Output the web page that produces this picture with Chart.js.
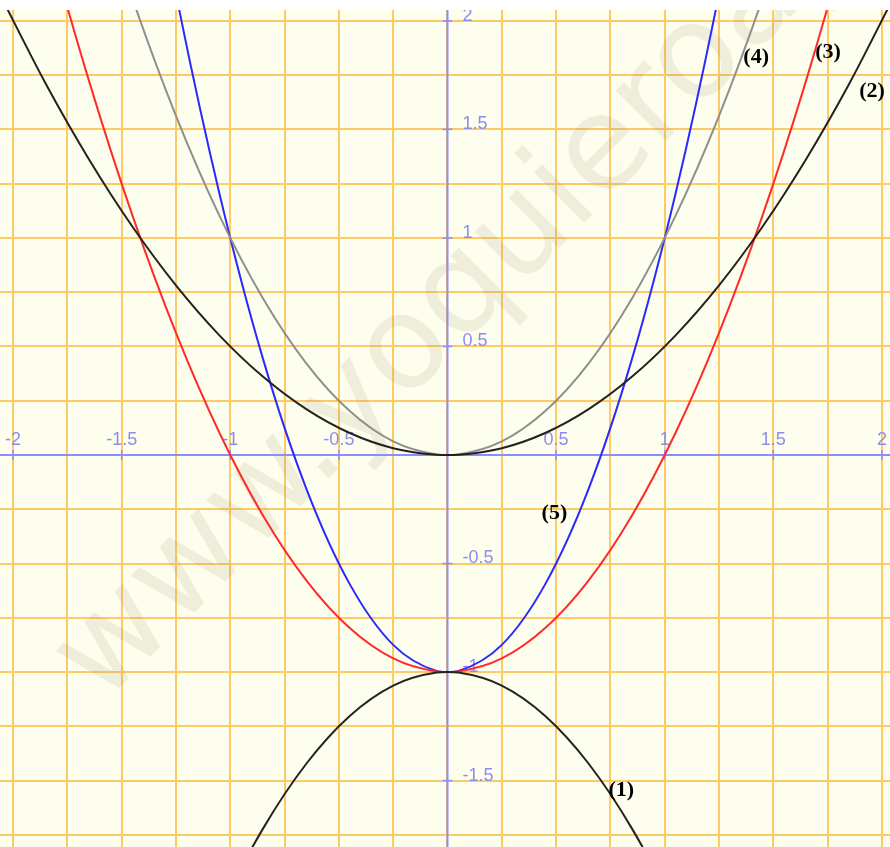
<!DOCTYPE html>
<html>
<head>
<meta charset="utf-8">
<script src="https://cdn.jsdelivr.net/npm/chart.js@4"></script>
<style>
  html, body { margin: 0; padding: 0; background: #fff; }
  #wrap { width: 890px; height: 847px; }
</style>
</head>
<body>
<div id="wrap"><canvas id="graph"></canvas></div>
<script>
// sample points
const xs = [-2.05, -1.85, -1.65, -1.45, -1.25, -1.05, -0.85, -0.65, -0.45, -0.25, -0.05, 0,
  0.05, 0.25, 0.45, 0.65, 0.85, 1.05, 1.25, 1.45, 1.65, 1.85, 2.05];
const curve1 = [-5.2025, -4.4225, -3.7225, -3.1025, -2.5625, -2.1025, -1.7225, -1.4225, -1.2025, -1.0625, -1.0025, -1,
  -1.0025, -1.0625, -1.2025, -1.4225, -1.7225, -2.1025, -2.5625, -3.1025, -3.7225, -4.4225, -5.2025];
const curve2 = [2.10125, 1.71125, 1.36125, 1.05125, 0.78125, 0.55125, 0.36125, 0.21125, 0.10125, 0.03125, 0.00125, 0,
  0.00125, 0.03125, 0.10125, 0.21125, 0.36125, 0.55125, 0.78125, 1.05125, 1.36125, 1.71125, 2.10125];
const curve3 = [3.2025, 2.4225, 1.7225, 1.1025, 0.5625, 0.1025, -0.2775, -0.5775, -0.7975, -0.9375, -0.9975, -1,
  -0.9975, -0.9375, -0.7975, -0.5775, -0.2775, 0.1025, 0.5625, 1.1025, 1.7225, 2.4225, 3.2025];
const curve4 = [4.2025, 3.4225, 2.7225, 2.1025, 1.5625, 1.1025, 0.7225, 0.4225, 0.2025, 0.0625, 0.0025, 0,
  0.0025, 0.0625, 0.2025, 0.4225, 0.7225, 1.1025, 1.5625, 2.1025, 2.7225, 3.4225, 4.2025];
const curve5 = [7.405, 5.845, 4.445, 3.205, 2.125, 1.205, 0.445, -0.155, -0.595, -0.875, -0.995, -1,
  -0.995, -0.875, -0.595, -0.155, 0.445, 1.205, 2.125, 3.205, 4.445, 5.845, 7.405];

const xTickValues = [-2, -1.5, -1, -0.5, 0.5, 1, 1.5, 2];
const xTickLabels = ["-2", "-1.5", "-1", "-0.5", "0.5", "1", "1.5", "2"];
const yTickValues = [2, 1.5, 1, 0.5, -0.5, -1, -1.5];
const yTickLabels = ["2", "1.5", "1", "0.5", "-0.5", "-1", "-1.5"];

const curveNames = ["(1)", "(2)", "(3)", "(4)", "(5)"];
const nameX = [0.80, 1.954, 1.752, 1.421, 0.492];
const nameY = [-1.544, 1.677, 1.857, 1.834, -0.267];

function pts(ys) {
  return xs.map((x, i) => ({ x: x, y: ys[i] }));
}

function curve(ys, color) {
  return {
    data: pts(ys),
    borderColor: color,
    borderWidth: 2,
    pointRadius: 0,
    cubicInterpolationMode: "monotone",
    fill: false,
    clip: 0
  };
}

// background, watermark and blue axes
const paper = {
  id: "paper",
  beforeDraw(chart) {
    const { ctx, chartArea: a } = chart;
    ctx.save();
    ctx.fillStyle = "#fefeee";
    ctx.fillRect(a.left, a.top, a.right - a.left, a.bottom - a.top);
    ctx.restore();
  },
  beforeDatasetsDraw(chart) {
    const { ctx, chartArea: a, scales } = chart;
    const x0 = scales.x.getPixelForValue(0);
    const y0 = scales.y.getPixelForValue(0);
    ctx.save();
    ctx.beginPath();
    ctx.rect(a.left, a.top, a.right - a.left, a.bottom - a.top);
    ctx.clip();

    // watermark
    ctx.save();
    ctx.translate(102, 705);
    ctx.rotate(-45 * Math.PI / 180);
    ctx.font = "130px 'DejaVu Sans', Verdana, sans-serif";
    ctx.fillStyle = "rgba(150,150,110,0.15)";
    ctx.textBaseline = "alphabetic";
    ctx.fillText("www.yoquieroaprobar.es", 0, 0);
    ctx.restore();

    ctx.strokeStyle = "#8c8cff";
    ctx.lineWidth = 2;
    ctx.beginPath();
    ctx.moveTo(a.left, y0); ctx.lineTo(a.right, y0);
    ctx.moveTo(x0, a.top); ctx.lineTo(x0, a.bottom);
    ctx.stroke();

    ctx.fillStyle = "#8c8cf0";
    ctx.font = "18px 'Liberation Sans', Arial, sans-serif";
    ctx.textBaseline = "middle";
    ctx.textAlign = "center";
    ctx.lineWidth = 1.5;
    xTickValues.forEach((v, i) => {
      const px = scales.x.getPixelForValue(v);
      ctx.beginPath();
      ctx.moveTo(px, y0 - 5); ctx.lineTo(px, y0 + 5);
      ctx.stroke();
      ctx.fillText(xTickLabels[i], px, y0 - 15);
    });
    ctx.textAlign = "left";
    yTickValues.forEach((v, i) => {
      const py = scales.y.getPixelForValue(v);
      ctx.beginPath();
      ctx.moveTo(x0 - 5, py); ctx.lineTo(x0 + 5, py);
      ctx.stroke();
      ctx.fillText(yTickLabels[i], x0 + 15, py - 5);
    });
    ctx.restore();
  },
  afterDatasetsDraw(chart) {
    const { ctx, scales } = chart;
    ctx.save();
    ctx.fillStyle = "#000";
    ctx.font = "bold 22px 'Liberation Serif', 'Times New Roman', serif";
    ctx.textAlign = "center";
    ctx.textBaseline = "middle";
    curveNames.forEach((t, i) => {
      ctx.fillText(t, scales.x.getPixelForValue(nameX[i]), scales.y.getPixelForValue(nameY[i]));
    });
    ctx.restore();
  }
};

const gridOpts = {
  color: "#ffc966",
  lineWidth: 2,
  drawTicks: false
};

new Chart(document.getElementById("graph"), {
  type: "line",
  data: {
    datasets: [
      curve(curve1, "#222222"),
      curve(curve2, "#222222"),
      curve(curve3, "#ff2a2a"),
      curve(curve4, "#8f8f8f"),
      curve(curve5, "#2a2aff")
    ]
  },
  options: {
    responsive: true,
    maintainAspectRatio: false,
    animation: false,
    layout: { padding: { top: 10, left: 0, right: 0, bottom: 0 } },
    plugins: {
      legend: { display: false },
      tooltip: { enabled: false }
    },
    scales: {
      x: {
        type: "linear",
        min: -2.06,
        max: 2.037,
        border: { display: false },
        grid: gridOpts,
        ticks: { display: false, stepSize: 0.25, includeBounds: false, autoSkip: false }
      },
      y: {
        type: "linear",
        min: -1.806,
        max: 2.05,
        border: { display: false },
        grid: gridOpts,
        ticks: { display: false, stepSize: 0.25, includeBounds: false, autoSkip: false }
      }
    }
  },
  plugins: [paper]
});
</script>
</body>
</html>
